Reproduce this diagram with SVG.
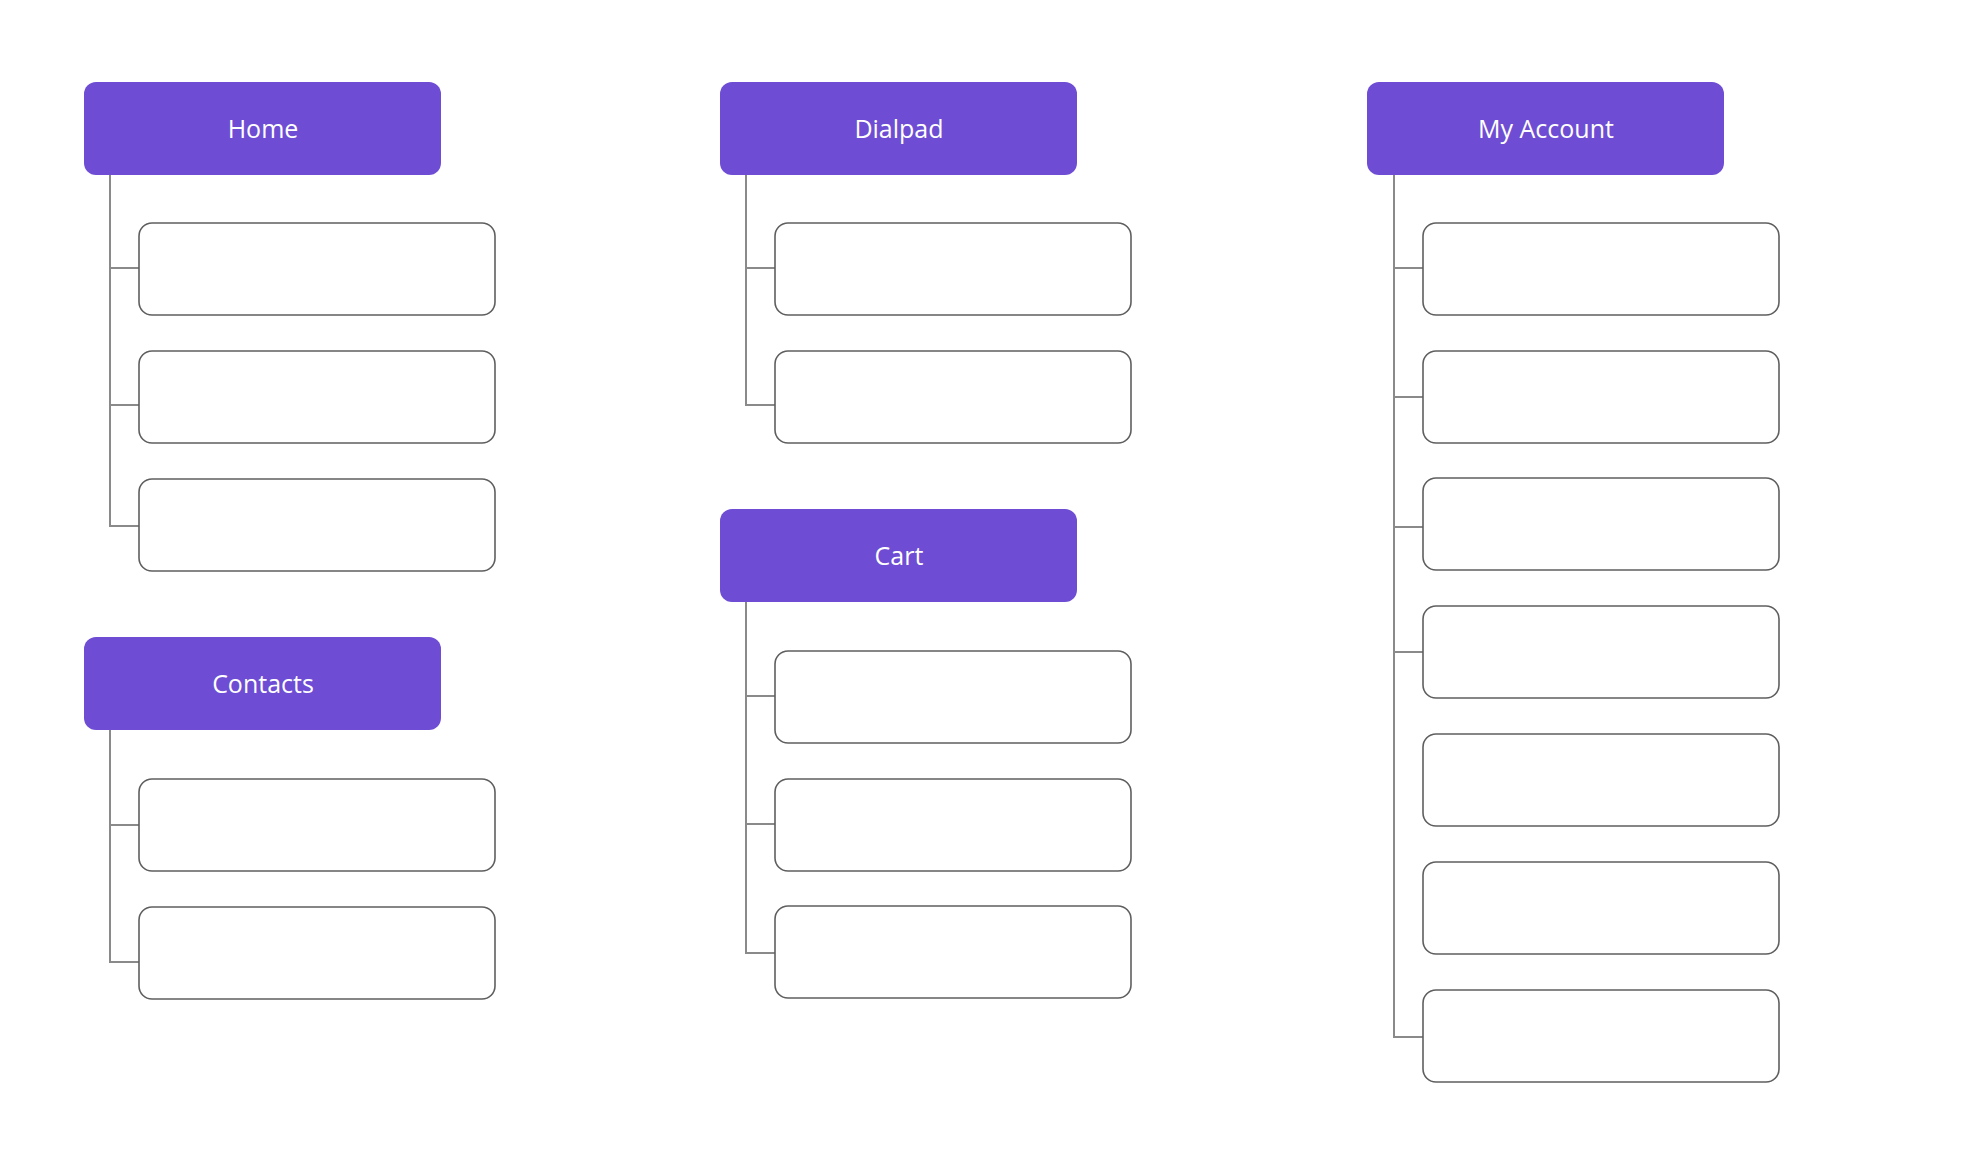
<svg xmlns="http://www.w3.org/2000/svg" width="1968" height="1172" viewBox="0 0 1968 1172">
<style>
.hdr{fill:#6E4DD4}
.lbl{fill:#ffffff;font-family:"Open Sans","Noto Sans","Liberation Sans",sans-serif;font-size:25px;text-anchor:middle}
.box{fill:#ffffff;stroke:#5F5F5F;stroke-width:1.6}
.conn{fill:none;stroke:#8A8A8A;stroke-width:2}
</style>
<rect width="1968" height="1172" fill="#ffffff"/>
<g id="connectors">
<path class="conn" d="M110 175 V526 H139 M110 268 H139 M110 405 H139"/>
<path class="conn" d="M110 730 V962 H139 M110 825 H139"/>
<path class="conn" d="M746 175 V405 H775 M746 268 H775"/>
<path class="conn" d="M746 602 V953 H775 M746 696 H775 M746 824 H775"/>
<path class="conn" d="M1394 175 V1037 H1423 M1394 268 H1423 M1394 397 H1423 M1394 527 H1423 M1394 652 H1423"/>
</g>
<g id="home">
<rect class="hdr" x="84" y="82" width="357" height="93" rx="12"/>
<text class="lbl" x="263" y="137.5">Home</text>
</g>
<g id="home-1"><rect class="box" x="139" y="223" width="356" height="92" rx="13"/></g>
<g id="home-2"><rect class="box" x="139" y="351" width="356" height="92" rx="13"/></g>
<g id="home-3"><rect class="box" x="139" y="479" width="356" height="92" rx="13"/></g>
<g id="contacts">
<rect class="hdr" x="84" y="637" width="357" height="93" rx="12"/>
<text class="lbl" x="263" y="692.5">Contacts</text>
</g>
<g id="contacts-1"><rect class="box" x="139" y="779" width="356" height="92" rx="13"/></g>
<g id="contacts-2"><rect class="box" x="139" y="907" width="356" height="92" rx="13"/></g>
<g id="dialpad">
<rect class="hdr" x="720" y="82" width="357" height="93" rx="12"/>
<text class="lbl" x="899" y="137.5">Dialpad</text>
</g>
<g id="dialpad-1"><rect class="box" x="775" y="223" width="356" height="92" rx="13"/></g>
<g id="dialpad-2"><rect class="box" x="775" y="351" width="356" height="92" rx="13"/></g>
<g id="cart">
<rect class="hdr" x="720" y="509" width="357" height="93" rx="12"/>
<text class="lbl" x="899" y="564.5">Cart</text>
</g>
<g id="cart-1"><rect class="box" x="775" y="651" width="356" height="92" rx="13"/></g>
<g id="cart-2"><rect class="box" x="775" y="779" width="356" height="92" rx="13"/></g>
<g id="cart-3"><rect class="box" x="775" y="906" width="356" height="92" rx="13"/></g>
<g id="my-account">
<rect class="hdr" x="1367" y="82" width="357" height="93" rx="12"/>
<text class="lbl" x="1546" y="137.5">My Account</text>
</g>
<g id="my-account-1"><rect class="box" x="1423" y="223" width="356" height="92" rx="13"/></g>
<g id="my-account-2"><rect class="box" x="1423" y="351" width="356" height="92" rx="13"/></g>
<g id="my-account-3"><rect class="box" x="1423" y="478" width="356" height="92" rx="13"/></g>
<g id="my-account-4"><rect class="box" x="1423" y="606" width="356" height="92" rx="13"/></g>
<g id="my-account-5"><rect class="box" x="1423" y="734" width="356" height="92" rx="13"/></g>
<g id="my-account-6"><rect class="box" x="1423" y="862" width="356" height="92" rx="13"/></g>
<g id="my-account-7"><rect class="box" x="1423" y="990" width="356" height="92" rx="13"/></g>
</svg>
